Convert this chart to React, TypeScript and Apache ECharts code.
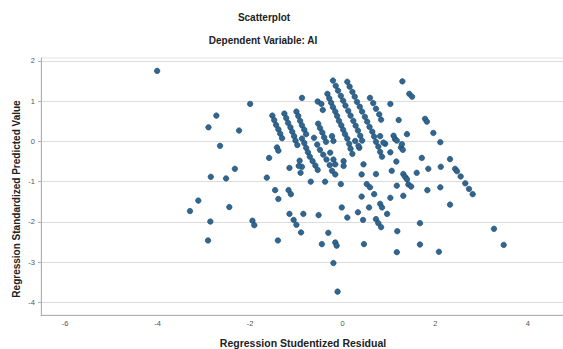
import React, { useEffect, useRef } from "react";
import * as echarts from "echarts";

// [studentized residual, standardized predicted value]
const outerLeft: [number, number][] = [
  [-4.01, 1.75], [-2.0, 0.93], [-2.73, 0.64], [-2.9, 0.35], [-2.24, 0.27], [-2.65, -0.11],
  [-1.59, -0.41], [-2.33, -0.68], [-2.85, -0.88], [-2.52, -0.92], [-1.64, -0.9], [-3.12, -1.47],
  [-3.3, -1.73], [-2.45, -1.63], [-2.86, -1.99], [-1.95, -1.97], [-1.91, -2.08], [-2.91, -2.46],
  [-1.4, -2.46], [-1.42, -0.15], [-1.39, -0.23], [-1.46, -1.21], [-1.39, -1.43],
];

const lowerMiddle: [number, number][] = [
  [-1.17, -1.21], [-1.12, -1.31], [-1.15, -1.8], [-1.06, -1.95], [-1.0, -2.07], [-0.9, -2.26],
  [-0.85, -1.8], [-0.52, -1.83], [-0.31, -2.27], [-0.45, -2.55], [-0.16, -2.51], [-0.13, -2.59],
  [-0.2, -3.02], [-0.11, -3.73], [-0.04, -1.06], [-0.02, -1.64], [0.1, -1.89], [-0.69, -1.0],
  [-0.38, -1.0], [0.52, -1.06], [0.59, -1.14], [0.41, -1.37], [0.68, -1.31], [0.33, -1.76],
  [0.44, -1.95], [0.57, -1.64], [0.81, -1.55], [0.85, -1.64], [0.72, -1.93], [0.77, -2.03],
  [0.83, -2.13], [0.96, -1.8], [1.03, -1.4], [1.17, -1.1], [1.31, -1.35], [1.18, -2.23],
  [0.46, -2.55], [1.17, -2.75], [1.42, -1.07],
];

const rightGroup: [number, number][] = [
  [1.29, 1.49], [1.44, 1.18], [1.5, 1.11], [1.03, 0.93], [1.21, 0.53], [1.78, 0.56], [1.82, 0.49],
  [1.96, 0.21], [2.11, -0.02], [1.1, 0.14], [1.13, 0.06], [1.17, 0.02], [1.39, 0.18], [1.03, -0.27],
  [1.26, -0.15], [1.3, -0.21], [1.16, -0.5], [1.71, -0.41], [2.32, -0.44], [1.31, -0.81],
  [1.35, -0.88], [1.39, -0.94], [1.6, -0.78], [1.85, -0.68], [2.12, -0.63], [2.43, -0.68],
  [2.47, -0.74], [2.55, -0.87], [2.65, -1.04], [2.73, -1.18], [2.81, -1.31], [1.48, -1.12],
  [1.83, -1.21], [2.11, -1.14], [2.32, -1.57], [1.67, -2.03], [1.67, -2.56], [2.08, -2.74],
  [3.27, -2.17], [3.48, -2.57],
];

const centralScatter: [number, number][] = [
  [-0.88, 1.08], [-0.54, 0.99], [-0.43, 0.78], [-0.46, 0.93], [-1.15, -0.66], [-0.93, -0.48],
  [-0.88, -0.63], [-0.95, -0.61], [-0.91, -0.78], [0.36, -0.16], [0.72, -0.81], [1.06, -0.73],
  [0.92, -0.06], [1.28, -0.07], [-0.16, -0.82], [0.41, -0.82], [-0.27, -0.28], [-0.2, -0.45],
  [-0.16, -0.57], [0.02, -0.49], [0.02, -0.61], [0.45, -0.57], [-0.23, 0.13], [-0.2, 0.01],
  [0.81, 0.13], [0.88, -0.03], [0.27, 0.01], [0.34, -0.11], [-0.62, 0.09],
];

const stripeA: [number, number][] = [
  [-1.52, 0.64], [-1.48, 0.53], [-1.44, 0.41], [-1.39, 0.3], [-1.35, 0.19], [-1.31, 0.08],
];
const stripeB: [number, number][] = [
  [-1.26, 0.69], [-1.22, 0.58], [-1.18, 0.46], [-1.13, 0.35], [-1.09, 0.24], [-1.05, 0.13],
  [-1.02, 0.02], [-0.98, -0.09],
];
const stripeC: [number, number][] = [
  [-1.0, 0.74], [-0.96, 0.63], [-0.92, 0.51], [-0.88, 0.4], [-0.83, 0.29], [-0.79, 0.18],
];
const stripeD: [number, number][] = [
  [-0.88, 0.07], [-0.83, -0.04], [-0.79, -0.16], [-0.75, -0.27], [-0.71, -0.38], [-0.65, -0.49],
  [-0.59, -0.6], [-0.54, -0.71],
];
const stripeE: [number, number][] = [
  [-0.53, 0.44], [-0.49, 0.33], [-0.44, 0.22], [-0.4, 0.1], [-0.36, -0.01],
  [-0.55, -0.08], [-0.49, -0.21], [-0.42, -0.33], [-0.35, -0.45], [-0.28, -0.59], [-0.23, -0.73],
];
const stripeF: [number, number][] = [
  [-0.33, 1.18], [-0.29, 1.07], [-0.25, 0.96], [-0.21, 0.85], [-0.16, 0.74], [-0.12, 0.63],
  [-0.08, 0.51], [-0.03, 0.4], [0.01, 0.29], [0.05, 0.18], [0.1, 0.07], [0.14, -0.06],
  [0.17, -0.18], [0.21, -0.31],
];
const stripeG: [number, number][] = [
  [-0.21, 1.51], [-0.15, 1.38], [-0.1, 1.26], [-0.04, 1.13], [0.01, 1.01], [0.06, 0.89],
  [0.12, 0.76], [0.17, 0.64], [0.23, 0.51], [0.28, 0.39], [0.33, 0.27], [0.38, 0.14], [0.42, 0.02],
];
const stripeH: [number, number][] = [
  [0.1, 1.48], [0.15, 1.36], [0.21, 1.23], [0.26, 1.11], [0.31, 0.98], [0.37, 0.86], [0.42, 0.74],
  [0.48, 0.61], [0.53, 0.49], [0.58, 0.36], [0.64, 0.24], [0.68, 0.12], [0.72, -0.01],
  [0.77, -0.13], [0.81, -0.26], [0.85, -0.38],
];
const stripeI: [number, number][] = [
  [0.59, 1.08], [0.66, 0.95], [0.72, 0.81], [0.79, 0.67], [0.83, 0.54],
];

const xTicks = [-6, -4, -2, 0, 2, 4];
const yTicks = [-4, -3, -2, -1, 0, 1, 2];

const FONT = '"Liberation Sans", Arial, sans-serif';

export default function App() {
  const ref = useRef<HTMLDivElement>(null);
  useEffect(() => {
    if (!ref.current) return;
    const chart = echarts.init(ref.current, undefined, { renderer: "svg" });
    const points = [
      ...outerLeft, ...lowerMiddle, ...rightGroup, ...centralScatter,
      ...stripeA, ...stripeB, ...stripeC, ...stripeD, ...stripeE,
      ...stripeF, ...stripeG, ...stripeH, ...stripeI,
    ];
    chart.setOption({
      animation: false,
      backgroundColor: "#ffffff",
      textStyle: { fontFamily: FONT },
      grid: {
        left: 41, right: -2, top: 58, bottom: 34,
        outerBoundsMode: "none",
        containLabel: false,
        show: true, borderColor: "#e2e2e2", borderWidth: 1, backgroundColor: "transparent",
      },
      graphic: [
        {
          type: "text", x: 264, y: 17,
          style: { text: "Scatterplot", textAlign: "center", textVerticalAlign: "middle",
            fontSize: 10, fontWeight: "bold", fontFamily: FONT, fill: "#222" },
        },
        {
          type: "text", x: 263, y: 40,
          style: { text: "Dependent Variable: AI", textAlign: "center", textVerticalAlign: "middle",
            fontSize: 10, fontWeight: "bold", fontFamily: FONT, fill: "#222" },
        },
        {
          type: "text", x: 16, y: 199, rotation: Math.PI / 2,
          style: { text: "Regression Standardized Predicted Value", textAlign: "center",
            textVerticalAlign: "middle", fontSize: 10, fontWeight: "bold", fontFamily: FONT, fill: "#222" },
        },
      ],
      xAxis: {
        type: "value", min: -6.52, max: 4.805,
        axisLine: { show: true, onZero: false, lineStyle: { color: "#b0b0b0" } },
        axisTick: { show: false, customValues: xTicks },
        axisLabel: { customValues: xTicks, fontSize: 7.5, color: "#555", margin: 4, fontFamily: FONT },
        splitLine: { show: false },
        name: "Regression Studentized Residual", nameLocation: "middle", nameGap: 22,
        nameTextStyle: { fontSize: 10.5, fontWeight: "bold", color: "#222", fontFamily: FONT },
      },
      yAxis: {
        type: "value", min: -4.31, max: 2.07,
        axisLine: { show: true, onZero: false, lineStyle: { color: "#b0b0b0" } },
        axisTick: { show: true, length: 3, customValues: yTicks, lineStyle: { color: "#b0b0b0" } },
        axisLabel: { customValues: yTicks, fontSize: 7.5, color: "#555", margin: 6, fontFamily: FONT },
        splitLine: { show: true, lineStyle: { color: "#dcdcdc", width: 1 } },
      },
      series: [
        {
          type: "scatter",
          data: points,
          symbolSize: 5.5,
          itemStyle: { color: "#2f6792", borderColor: "#1d4566", borderWidth: 0.6, opacity: 1 },
        },
      ],
    });
    return () => chart.dispose();
  }, []);
  return (
    <div
      ref={ref}
      style={{ position: "fixed", left: 0, top: 0, width: 563, height: 349, background: "#fff" }}
    />
  );
}
